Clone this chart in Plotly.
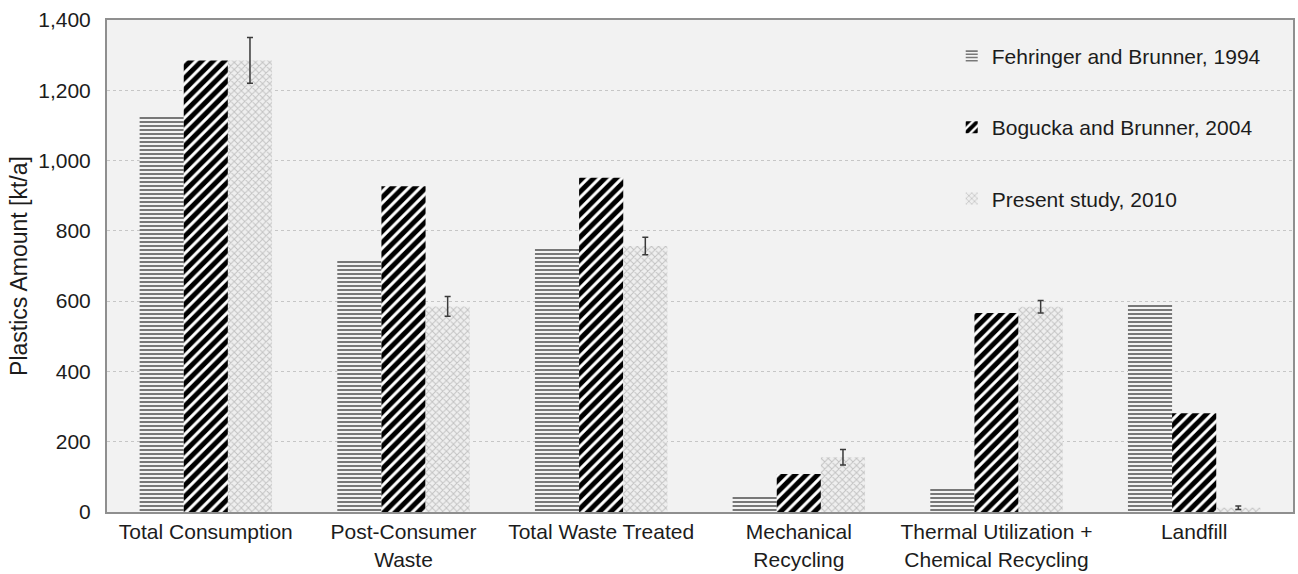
import plotly.graph_objects as go

categories = [
    "Total Consumption",
    "Post-Consumer<br>Waste",
    "Total Waste Treated",
    "Mechanical<br>Recycling",
    "Thermal Utilization +<br>Chemical Recycling",
    "Landfill",
]
fehringer_1994 = [1125, 716, 751, 45, 67, 594]
bogucka_2004 = [1285, 927, 951, 108, 566, 281]
present_2010 = [1285, 585, 757, 156, 584, 12]
present_2010_err = [65, 28, 25, 22, 18, 5]

tick_vals = [0, 200, 400, 600, 800, 1000, 1200, 1400]

font_family = "Arial, Liberation Sans, sans-serif"
text_color = "#1c1c1c"
font_size = 21

fig = go.Figure()

fig.add_trace(go.Bar(
    name="Fehringer and Brunner, 1994",
    x=categories, y=fehringer_1994,
    legendgroup="a",
    marker=dict(
        color="#f4f4f4",
        line=dict(width=0),
        pattern=dict(shape="-", size=4, solidity=0.45, fgopacity=1,
                     fgcolor="#6a6a6a", bgcolor="#f4f4f4"),
    ),
))
fig.add_trace(go.Bar(
    name="Bogucka and Brunner, 2004",
    x=categories, y=bogucka_2004,
    legendgroup="b",
    marker=dict(
        color="#ffffff",
        line=dict(width=0),
        pattern=dict(shape="/", size=8, solidity=0.62, fgopacity=1,
                     fgcolor="#000000", bgcolor="#ffffff"),
    ),
))
fig.add_trace(go.Bar(
    name="Present study, 2010",
    x=categories, y=present_2010,
    legendgroup="c",
    error_y=dict(type="data", array=present_2010_err, visible=True,
                 color="#3a3a3a", thickness=1.5, width=3),
    marker=dict(
        color="#ececec",
        line=dict(width=0),
        pattern=dict(shape="x", size=5, solidity=0.35, fgopacity=1,
                     fgcolor="#c2c2c2", bgcolor="#efefef"),
    ),
))

fig.update_layout(
    width=1298, height=574,
    barmode="group",
    bargap=0.33,
    bargroupgap=0,
    paper_bgcolor="white",
    plot_bgcolor="#f2f2f2",
    margin=dict(l=107, r=5, t=20, b=62),
    font=dict(family=font_family, size=font_size, color=text_color),
    showlegend=True,
    legend=dict(
        x=0.977, y=0.968, xanchor="right", yanchor="top",
        bgcolor="rgba(0,0,0,0)",
        font=dict(size=font_size, color=text_color),
        tracegroupgap=41,
        itemwidth=30,
    ),
)

fig.update_xaxes(
    showline=True, linecolor="#8f8f8f", linewidth=2, mirror=True,
    showgrid=False, ticks="",
    automargin=False,
    ticklabelstandoff=0,
    tickfont=dict(size=font_size, color=text_color),
)
fig.update_yaxes(
    range=[0, 1400],
    tickvals=tick_vals, tickformat=",d",
    showline=True, linecolor="#8f8f8f", linewidth=2, mirror=True,
    showgrid=True, gridcolor="#c6c6c6", griddash="3px,3px", gridwidth=1,
    zeroline=False, ticks="",
    automargin=False,
    ticklabelstandoff=10,
    tickfont=dict(size=font_size, color=text_color),
    title=dict(text="Plastics Amount [kt/a]", font=dict(size=23, color=text_color),
               standoff=4),
)

fig.write_html("out.html")
